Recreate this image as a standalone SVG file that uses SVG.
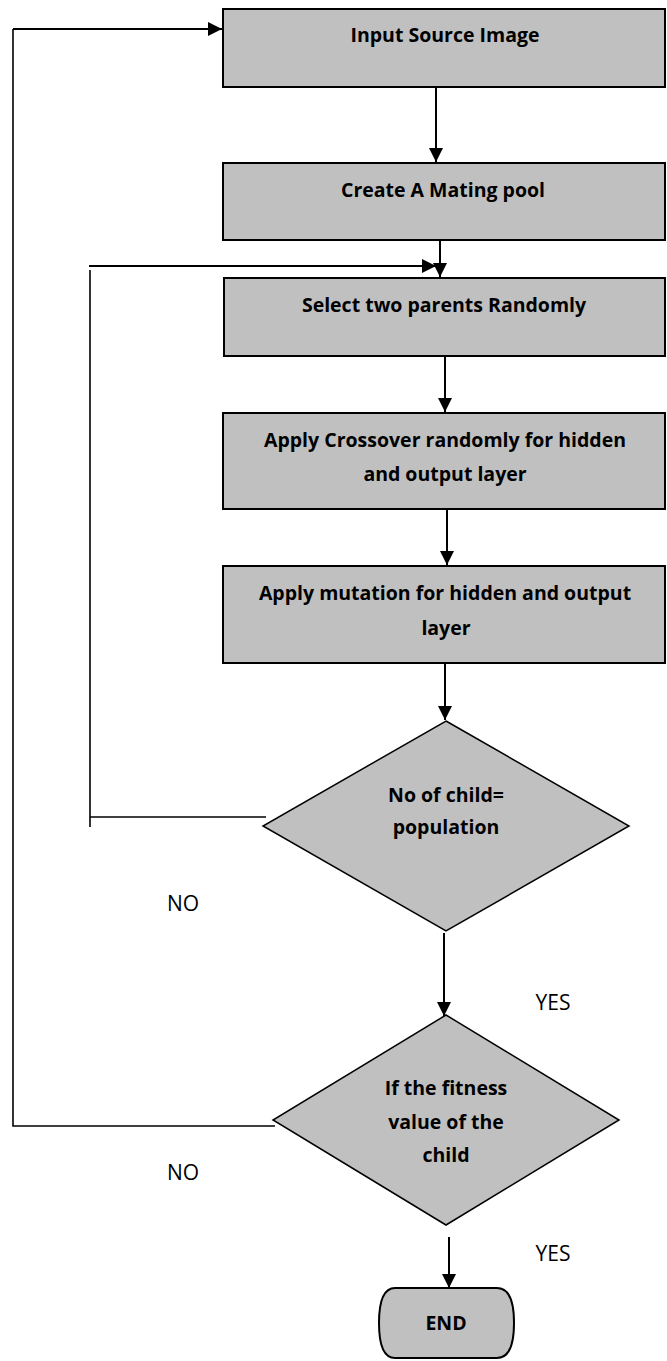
<svg xmlns="http://www.w3.org/2000/svg" width="667" height="1361" viewBox="0 0 667 1361">
<style>
.box{fill:#c0c0c0;stroke:#000;stroke-width:2}
.dia{fill:#c0c0c0;stroke:#000;stroke-width:1.5}
.t{font-family:"Open Sans","Liberation Sans",sans-serif;font-weight:bold;font-size:19.5px;fill:#000;text-anchor:middle}
.lbl{font-family:"Open Sans","Liberation Sans",sans-serif;font-size:21px;fill:#000;text-anchor:middle}
.c{fill:none;stroke:#000;stroke-width:2}
.cl{fill:none;stroke:#000;stroke-width:1.6}
</style>
<defs>
<marker id="ah" markerUnits="userSpaceOnUse" markerWidth="14" markerHeight="14" refX="14" refY="7" orient="auto">
<path d="M0,0 L14,7 L0,14 Z" fill="#000"/>
</marker>
</defs>
<rect width="667" height="1361" fill="#fff"/>
<g id="connectors">
<path class="c" d="M436,87 V162" marker-end="url(#ah)"/>
<path class="c" d="M440,240 V277" marker-end="url(#ah)"/>
<path class="c" d="M445,356 V412" marker-end="url(#ah)"/>
<path class="c" d="M447,509 V565" marker-end="url(#ah)"/>
<path class="c" d="M445,663 V720" marker-end="url(#ah)"/>
<path class="c" d="M444,933 V1016" marker-end="url(#ah)"/>
<path class="c" d="M449,1237 V1288" marker-end="url(#ah)"/>
<path class="cl" d="M266,817 H90"/>
<path class="cl" d="M90,827 V270"/>
<path class="c" d="M89,266 H436" marker-end="url(#ah)"/>
<path class="cl" d="M275,1126 H13 V29"/>
<path class="c" d="M13,29 H222" marker-end="url(#ah)"/>
</g>
<g id="n1"><rect class="box" x="223" y="9" width="442" height="78"/><text class="t" x="445" y="42">Input Source Image</text></g>
<g id="n2"><rect class="box" x="223" y="163" width="442" height="77"/><text class="t" x="443" y="197">Create A Mating pool</text></g>
<g id="n3"><rect class="box" x="224" y="278" width="441" height="78"/><text class="t" x="444" y="312">Select two parents Randomly</text></g>
<g id="n4"><rect class="box" x="223" y="413" width="442" height="96"/><text class="t" x="445" y="447">Apply Crossover randomly for hidden</text><text class="t" x="445" y="481">and output layer</text></g>
<g id="n5"><rect class="box" x="223" y="566" width="442" height="97"/><text class="t" x="445" y="600">Apply mutation for hidden and output</text><text class="t" x="446" y="635">layer</text></g>
<g id="d1"><polygon class="dia" points="446,721 629,826 446,931 263,826"/><text class="t" x="446" y="802">No of child=</text><text class="t" x="446" y="834">population</text></g>
<g id="d2"><polygon class="dia" points="446,1015 619,1120 446,1225 273,1120"/><text class="t" x="446" y="1095">If the fitness</text><text class="t" x="446" y="1129">value of the</text><text class="t" x="446" y="1162">child</text></g>
<g id="end"><path class="box" d="M395,1288 H497 Q514,1288 514,1323 Q514,1358 497,1358 H395 Q379,1358 379,1323 Q379,1288 395,1288 Z"/><text class="t" x="446" y="1330">END</text></g>
<g id="labels">
<text class="lbl" x="183" y="911">NO</text>
<text class="lbl" x="553" y="1010">YES</text>
<text class="lbl" x="183" y="1180">NO</text>
<text class="lbl" x="553" y="1261">YES</text>
</g>
</svg>
